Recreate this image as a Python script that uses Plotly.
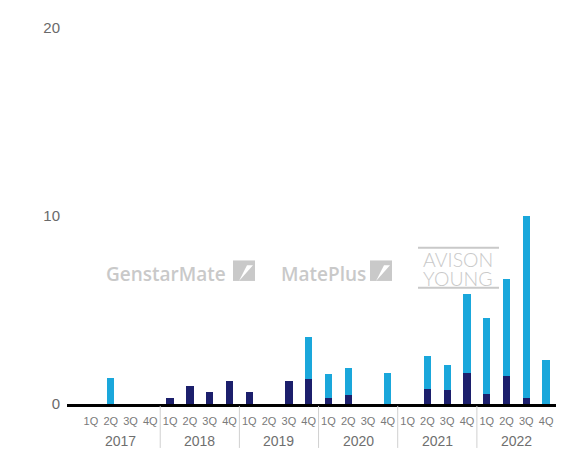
import plotly.graph_objects as go

# ---- data ----
years = ["2017", "2018", "2019", "2020", "2021", "2022"]
quarters = ["1Q", "2Q", "3Q", "4Q"]
dark_series = [0, 0, 0, 0,
               0.33, 0.95, 0.64, 1.2,
               0.64, 0, 1.2, 1.35,
               0.3, 0.47, 0, 0,
               0, 0.78, 0.73, 1.66,
               0.52, 1.47, 0.33, 0]
light_series = [0, 1.36, 0, 0,
                0, 0, 0, 0,
                0, 0, 0, 2.22,
                1.3, 1.46, 0, 1.66,
                0, 1.76, 1.34, 4.21,
                4.05, 5.16, 9.67, 2.35]
y_ticks = [0, 10, 20]

# page body offsets the figure by 8px; lay out in window pixels
OFF = 8
W, H = 564, 457
PL, PR, PT, PB = 67, 560, 19, 404   # plot area in window pixels
ML, MT = PL - OFF, PT - OFF
MR = W - (PR - OFF)
MB = H - (PB - OFF)
PW, PH = PR - PL, PB - PT

def px(x):
    return (x - PL) / PW

def py(y):
    return (PB - y) / PH

n = len(years) * len(quarters)
xs = list(range(n))
labels = [q for _ in years for q in quarters]

DARK = "#1c1f6c"
LIGHT = "#1aa7db"
GRAY = "#c9c9c9"

fig = go.Figure()
fig.add_trace(go.Bar(x=xs, y=dark_series, marker=dict(color=DARK, line_width=0), width=0.37, name="a"))
fig.add_trace(go.Bar(x=xs, y=light_series, marker=dict(color=LIGHT, line_width=0), width=0.37, name="b"))

shapes = []
annotations = []
for i, yr in enumerate(years):
    annotations.append(dict(x=i * 4 + 1.5, xref="x", y=py(442), yref="paper", text=yr,
                            showarrow=False, font=dict(family="Liberation Sans", size=14, color="#6f6f6f"),
                            xanchor="center", yanchor="middle"))
    if i > 0:
        shapes.append(dict(type="line", xref="x", yref="paper", x0=i * 4 - 0.5, x1=i * 4 - 0.5,
                           y0=py(406), y1=py(449), line=dict(color="#d0d0d0", width=1)))

# logos (watermarks)
annotations.append(dict(x=px(166), y=py(271), xref="paper", yref="paper", text="GenstarMate",
                        showarrow=False, font=dict(family="Open Sans", size=19, color=GRAY, weight=600),
                        xanchor="center", yanchor="middle"))
annotations.append(dict(x=px(323.5), y=py(271), xref="paper", yref="paper", text="MatePlus",
                        showarrow=False, font=dict(family="Open Sans", size=19, color=GRAY, weight=600),
                        xanchor="center", yanchor="middle"))
for x0 in (233, 370):
    shapes.append(dict(type="rect", xref="paper", yref="paper", x0=px(x0), x1=px(x0 + 22),
                       y0=py(278), y1=py(257), fillcolor=GRAY, line_width=0, layer="below"))
    path = "M {:.4f} {:.4f} L {:.4f} {:.4f} L {:.4f} {:.4f} Z".format(
        px(x0 + 6), py(278), px(x0 + 14), py(262), px(x0 + 20), py(262))
    shapes.append(dict(type="path", xref="paper", yref="paper", path=path,
                       fillcolor="white", line_width=0, layer="below"))

for yline in (244, 285):
    shapes.append(dict(type="line", xref="paper", yref="paper", x0=px(418), x1=px(499),
                       y0=py(yline), y1=py(yline), line=dict(color=GRAY, width=2)))
annotations.append(dict(x=px(458), y=py(256.5), xref="paper", yref="paper", text="AVISON",
                        showarrow=False, font=dict(family="Lato", size=19.5, color=GRAY, weight=300),
                        xanchor="center", yanchor="middle"))
annotations.append(dict(x=px(458), y=py(275), xref="paper", yref="paper", text="YOUNG",
                        showarrow=False, font=dict(family="Lato", size=19.5, color=GRAY, weight=300),
                        xanchor="center", yanchor="middle"))

fig.update_layout(
    width=W, height=H, autosize=False,
    margin=dict(l=ML, r=MR, t=MT, b=MB, pad=0),
    barmode="stack",
    showlegend=False,
    plot_bgcolor="white", paper_bgcolor="white",
    shapes=shapes, annotations=annotations,
    xaxis=dict(range=[-1.21, 23.7], tickmode="array", tickvals=xs, ticktext=labels,
               tickfont=dict(family="Liberation Sans", size=11, color="#7a7a7a"),
               showgrid=False, zeroline=False, showline=True, linecolor="black", linewidth=2.5,
               ticks="", ticklabelstandoff=5, fixedrange=True),
    yaxis=dict(range=[0, 20], tickmode="array", tickvals=y_ticks,
               tickfont=dict(family="Liberation Sans", size=15, color="#6a6a6a"),
               showgrid=False, zeroline=False, showline=False, ticks="", ticklabelstandoff=6),
)

fig.write_html("out.html")
